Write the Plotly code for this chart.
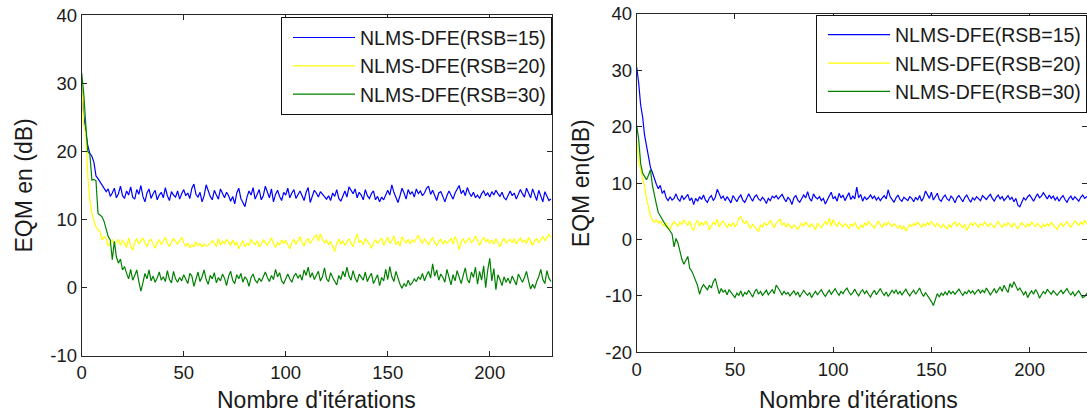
import plotly.graph_objects as go

# ---------------- data ----------------
iterations = list(range(0, 231))

left_rsb15 = [
    29.5, 25.3, 22.8, 20.8, 19.7, 19.3, 18.4, 16.4, 16.0, 15.5, 14.9, 14.6, 14.1, 14.5, 13.4,
    13.9, 14.6, 13.2, 13.8, 14.9, 13.5, 13.1, 14.2, 13.6, 14.8, 13.3, 13.0, 14.4, 13.7, 15.0,
    13.4, 12.6, 13.9, 14.5, 13.1, 13.8, 14.3, 12.9, 13.6, 14.0, 13.2, 14.7, 13.5, 12.8, 14.1,
    13.6, 13.3, 14.2, 13.0, 13.8, 14.4, 13.5, 13.9, 13.1, 14.6, 15.2, 13.7, 13.3, 14.0, 12.6,
    13.5, 15.1, 14.2, 13.4, 12.9, 14.3, 13.6, 13.0, 14.5, 13.8, 13.2, 14.0, 13.5, 12.7, 13.4,
    12.3, 13.9, 14.6, 13.1, 12.5, 11.9, 13.3, 14.2, 13.6, 14.7, 13.0, 13.8, 14.4, 12.9, 13.5,
    14.9, 14.1, 13.2, 14.5, 12.6, 13.7, 14.3, 13.4, 12.8, 14.0, 13.6, 14.6, 13.2, 13.9, 14.4,
    13.1, 13.7, 14.2, 13.5, 12.8, 14.0, 14.7, 12.5, 13.6, 14.3, 13.9, 13.3, 14.1, 13.7, 13.4,
    13.0, 13.5, 12.8, 13.9, 13.4, 14.4, 13.1, 12.7, 13.6, 14.2, 13.3, 14.8, 14.3, 13.8, 14.5,
    13.2, 14.0, 13.6, 12.9, 14.4, 13.5, 13.1, 13.8, 14.2, 12.9, 13.4, 12.6, 13.3, 12.9, 13.7,
    14.3, 13.6, 15.1, 14.0, 13.2, 12.5, 13.5, 14.6, 13.9, 13.0, 14.4, 13.7, 14.1, 13.3, 14.5,
    13.8, 14.2, 13.5, 13.9, 14.6, 14.9, 13.7, 14.3, 13.6, 12.8, 13.9, 14.1, 13.4, 12.6, 13.5,
    14.2, 13.6, 13.0, 13.9, 14.4, 15.0, 13.8, 14.3, 13.5, 14.7, 13.9, 13.4, 14.0, 13.2, 13.6,
    13.1, 13.8, 14.2, 13.5, 13.9, 13.3, 14.1, 13.6, 14.3, 13.8, 13.4, 14.0, 13.2, 12.9, 13.6,
    14.2, 13.5, 13.9, 13.0, 13.6, 14.4, 13.8, 13.3, 14.6, 13.9, 13.2, 14.5, 13.7, 12.8, 14.3,
    13.5, 12.6, 14.1, 13.4, 12.8, 13.0,
]

left_rsb20 = [
    30.0, 24.0, 22.5, 16.3, 12.9, 10.9, 9.8, 8.9, 8.5, 8.2, 7.0, 7.5, 7.2, 6.1, 6.6,
    7.0, 6.3, 6.8, 7.1, 6.2, 6.9, 6.5, 5.9, 7.3, 6.1, 5.5, 6.7, 7.2, 6.4, 6.9,
    7.3, 6.6, 6.0, 6.9, 7.1, 6.4, 5.8, 6.6, 7.0, 6.3, 6.8, 7.4, 6.5, 6.1, 6.7,
    7.2, 6.8, 6.4, 6.9, 7.4, 6.6, 6.1, 6.5, 5.9, 6.3, 6.0, 6.7, 6.2, 6.5, 6.0,
    6.4, 6.1, 6.2, 6.6, 6.9, 6.5, 6.0, 7.2, 6.3, 6.8, 6.4, 7.1, 6.6, 6.2, 7.0,
    6.3, 6.7, 5.7, 6.4, 6.9, 6.0, 6.5, 6.2, 7.1, 6.6, 6.3, 6.9, 6.0, 6.4, 7.0,
    6.6, 6.2, 6.8, 7.3, 6.5, 5.9, 6.7, 6.3, 7.0, 6.5, 6.9, 6.2, 5.7, 6.6, 7.1,
    6.4, 6.8, 7.5, 6.6, 6.1, 6.9, 7.2, 6.5, 7.0, 7.4, 7.8, 6.8, 7.9, 7.1, 6.6,
    7.0, 6.3, 6.8, 6.0, 5.3, 6.5, 7.1, 6.4, 6.9, 6.2, 6.7, 7.2, 6.5, 6.0, 7.0,
    7.9, 6.6, 6.9, 6.3, 7.2, 6.8, 6.4, 5.8, 6.6, 7.0, 6.5, 6.9, 7.3, 6.2, 6.7,
    7.4, 6.5, 6.9, 7.6, 6.3, 6.8, 6.1, 7.5, 6.9, 6.6, 7.1, 6.4, 7.0, 6.7, 7.3,
    7.7, 7.0, 6.5, 7.2, 6.8, 6.3, 6.9, 7.4, 6.6, 6.2, 6.8, 7.1, 6.4, 6.9, 6.5,
    6.8, 7.3, 6.4, 7.5, 6.9, 5.6, 6.7, 7.2, 6.5, 7.0, 7.3, 6.6, 6.9, 7.6, 6.8,
    6.2, 6.9, 7.4, 6.7, 7.1, 6.5, 7.0, 6.4, 7.2, 6.6, 6.0, 6.8, 7.3, 6.5, 6.9,
    7.1, 6.6, 7.2, 6.4, 6.9, 7.3, 6.7, 7.0, 6.5, 7.4, 6.8, 6.2, 6.9, 7.2, 6.6,
    7.0, 7.5, 6.9, 7.3, 7.8, 7.4,
]

left_rsb30 = [
    31.5, 28.5, 24.0, 20.0, 19.6, 15.8, 15.9, 15.7, 10.9, 10.6, 10.4, 9.7, 8.6, 7.5, 7.0,
    4.1, 6.8, 4.5, 3.6, 4.2, 2.6, 3.1, 2.1, 1.3, 2.7, 1.1, 1.8, 2.6, 0.9, -0.5,
    0.7, 2.1, 1.3, 2.6, 1.0, 1.7, 0.8, 1.4, 2.3, 1.1, 1.6, 0.9, 2.5, 1.2, 0.7,
    2.4, 1.3, 0.8, 1.5, 1.0, 1.9, 1.3, 0.6, 2.1, 1.7, 0.2, 1.4, 2.3, 0.9, 1.6,
    2.6, 1.2, 0.5, 1.8, 1.3, 2.2, 0.7, 1.5, 1.0, 2.0, 1.4, 0.3, 1.7, 2.4, 1.1,
    0.6, 1.9, 1.3, 2.1, 0.8, 1.6, 1.2, 0.2, 1.5, 2.0, 1.1, 0.7, 1.4, 0.9, 1.7,
    2.3, 1.5, 0.9, 1.8, 1.2, 2.7, 1.6, 2.2, 1.0, 0.6, 1.4, 2.0, 1.3, 0.8, 1.7,
    2.1, 1.4, 1.9, 1.1, 2.6, 1.8, 3.0, 1.5, 2.2, 1.2, 1.7, 2.4, 1.0, 1.6, 2.9,
    1.3, 0.9, 2.2, 1.5, 1.0, 0.4, 1.8, 1.2, 2.4, 1.6, 3.0, 1.7, 1.1, 2.5, 1.4,
    0.8, 2.0, 1.5, 1.1, 2.3, 0.9, 1.6, 2.1, 0.6, 1.4, 1.9, 0.3, 1.5, 1.0, 2.7,
    1.2, 3.1, 1.6, 0.9, 2.4, 1.3, 0.5, -0.1, 0.6, 0.2, 1.1, 0.4, 0.7, 1.3, 0.9,
    1.6, 1.2, 2.1, 1.0, 1.8, 2.4, 1.4, 3.5, 1.7, 2.6, 1.1, 2.0, 1.5, 0.8, 2.7,
    1.3, 0.4, 1.9, 1.0, 2.5, 1.4, 0.6, 1.8, 2.9, 1.2, 0.7, 2.3, 1.5, 3.0, 0.5,
    2.4, 1.1, 3.2, 0.0, 2.6, 4.3, 1.0, 2.8, -0.3, 1.9, 1.2, 0.3, 1.6, 0.8, 1.4,
    0.6, 1.7, 1.1, 0.4, 2.0, 1.3, 0.8, 1.5, 2.4, 1.0, -0.2, 0.5, -0.1, 0.9, 1.6,
    2.7, 1.2, 0.6, 2.5, 1.4, 0.9,
]

right_rsb15 = [
    30.6, 27.8, 23.9, 21.8, 18.5, 16.6, 14.9, 12.8, 11.9, 10.7, 9.8, 9.0, 9.6, 8.2, 8.7,
    7.4, 6.9, 7.6, 7.0, 7.3, 8.1, 7.2, 6.8, 7.8, 7.1, 7.5, 8.0, 6.9, 7.4, 6.2,
    7.3, 6.8, 7.6, 7.1, 7.9, 7.0, 6.6, 7.4, 7.8, 6.9, 7.5, 8.9, 8.2, 7.3, 7.7,
    6.9, 7.6, 7.1, 6.5, 7.8, 7.2, 6.7, 7.5, 7.9, 7.0, 6.6, 7.3, 8.1, 7.4, 6.8,
    7.6, 7.9, 7.2, 6.9, 7.5, 7.1, 6.4, 7.3, 6.9, 7.7, 7.4, 7.8, 7.2, 7.6, 8.0,
    7.3, 6.7, 7.5, 7.1, 6.2, 7.4, 7.8, 7.0, 6.6, 7.2, 7.9, 7.4, 8.5, 7.3, 6.8,
    8.1, 7.5, 7.2, 7.6, 6.9, 7.3, 6.3, 7.0, 7.7, 8.4, 7.2, 7.6, 6.8, 8.2, 7.4,
    7.9, 6.9, 7.5, 8.3, 7.1, 7.7, 7.2, 9.3, 7.4, 8.0, 6.8, 7.6, 7.1, 7.4, 7.9,
    7.3, 7.7, 7.0, 7.5, 6.9, 7.4, 7.8, 7.2, 8.8, 7.6, 7.0, 6.6, 7.4, 7.9, 7.1,
    6.8, 7.5, 7.2, 6.9, 7.6, 7.3, 6.7, 7.5, 7.0, 7.8, 6.8, 7.4, 8.6, 7.9, 7.3,
    8.4, 7.0, 7.6, 8.2, 7.1, 6.8, 7.5, 7.9, 7.2, 6.9, 7.7, 7.3, 6.5, 7.4, 7.8,
    7.1, 6.7, 7.5, 7.9, 7.2, 6.6, 7.4, 7.0, 7.6, 7.3, 6.9, 7.8, 7.4, 7.1, 7.6,
    8.0, 7.3, 6.8, 7.5, 7.9, 7.2, 7.6, 6.9, 7.4, 7.8, 7.1, 7.5, 6.7, 7.3, 6.1,
    5.8, 6.6, 7.4, 7.0, 7.6, 7.9, 7.2, 6.8, 7.5, 8.1, 7.4, 7.7, 8.3, 7.6, 7.2,
    7.9, 7.3, 7.7, 7.0, 7.5, 6.8, 7.4, 7.8, 7.1, 6.6, 7.3, 7.7, 7.0, 7.6, 7.2,
    6.8, 7.5, 7.9, 7.3, 7.6, 7.4,
]

right_rsb20 = [
    17.5, 13.8, 12.4, 11.0, 9.4, 7.2, 5.6, 4.3, 3.4, 3.1, 3.5, 2.9, 3.3, 2.7, 2.4,
    3.0, 2.2, 1.8, 2.6, 3.2, 2.8, 2.3, 3.1, 2.7, 3.5, 2.9, 2.5, 3.3, 2.1, 1.6,
    2.8, 3.4, 2.4, 3.0, 2.6, 3.2, 2.9, 1.7, 2.5, 3.1, 2.7, 3.6, 2.2, 2.9, 3.3,
    2.6, 2.1, 2.8, 2.4, 3.0, 2.3, 2.7, 3.8, 4.1, 3.2, 2.8, 3.3, 2.5, 2.0, 2.7,
    2.3, 1.9, 1.4, 2.6, 2.2, 3.0, 2.5, 2.8, 3.4, 2.7, 2.1, 2.9, 3.2, 3.6, 2.5,
    3.0, 2.2, 2.8, 2.4, 2.0, 2.6, 2.3, 1.8, 2.5, 2.9, 2.4, 3.1, 2.7, 2.2, 2.8,
    2.4, 1.7, 2.9, 2.5, 2.1, 2.7, 3.2, 2.6, 3.8, 2.4, 3.5, 2.8, 2.3, 3.1, 2.6,
    2.2, 2.8, 2.5, 1.9, 2.7, 2.4, 3.0, 2.3, 1.8, 2.6, 2.1, 2.9, 2.5, 3.2, 2.7,
    2.4, 2.0, 2.8, 3.3, 2.6, 2.2, 2.9, 2.5, 3.1, 2.7, 2.3, 2.8, 2.4, 2.0, 2.6,
    1.8, 2.4, 1.5, 2.1, 2.7, 2.3, 2.9, 2.5, 3.1, 2.7, 2.2, 2.8, 2.4, 3.0, 2.6,
    3.2, 2.8, 2.3, 2.9, 2.5, 2.1, 2.7, 2.3, 1.9, 2.6, 2.2, 2.8, 3.1, 2.4, 2.9,
    2.5, 2.1, 2.7, 1.6, 2.3, 2.9, 2.5, 3.0, 2.6, 2.2, 2.8, 2.4, 3.1, 2.7, 2.3,
    2.9, 2.5, 2.1, 2.7, 3.2, 2.6, 2.2, 2.8, 2.4, 3.0, 2.6, 2.2, 2.9, 2.5, 1.9,
    2.4, 3.0, 2.6, 2.2, 2.8, 2.4, 3.1, 2.7, 2.3, 2.9, 2.5, 2.1, 2.7, 2.3, 2.8,
    2.4, 3.0, 2.6, 2.2, 1.8, 2.5, 2.9, 2.3, 2.7, 3.2, 2.6, 2.2, 2.8, 3.3, 2.9,
    2.5, 3.1, 2.7, 3.4, 2.8, 3.0,
]

right_rsb30 = [
    20.2, 17.8, 13.5, 11.8, 11.2, 10.6, 11.4, 12.4, 9.6, 8.2, 6.3, 4.8, 4.2, 3.5, 2.8,
    2.4, 2.0, 1.4, 1.0, -1.3, 0.2, -0.6, -2.2, -3.5, -4.4, -3.6, -3.0, -5.1, -5.6, -6.4,
    -7.3, -8.2, -9.7, -8.6, -8.0, -8.4, -8.9, -8.1, -8.6, -7.5, -6.9, -8.3, -9.6, -8.7, -9.3,
    -9.0, -9.8, -8.9, -9.4, -10.0, -10.3, -9.5, -9.9, -9.1, -10.1, -9.4, -9.7, -9.0, -9.6, -10.2,
    -9.3, -8.8, -9.7, -9.2, -9.9, -9.5, -9.0, -9.8, -9.4, -8.9, -9.6, -8.1, -8.6, -9.3, -9.8,
    -9.2, -9.7, -9.4, -10.0, -9.5, -9.1, -9.8, -9.3, -10.2, -9.6, -9.0, -9.5, -9.9, -9.4, -10.3,
    -9.7, -9.2, -9.8, -9.4, -8.9, -9.6, -10.1, -9.5, -9.0, -9.7, -9.3, -8.7, -9.4, -9.9, -9.2,
    -9.6, -9.0, -8.6, -9.3, -9.8, -9.4, -8.8, -9.5, -10.0, -9.3, -8.9, -9.6, -9.1, -9.7, -10.2,
    -9.5, -9.0, -9.8, -9.2, -8.7, -9.4, -9.9, -9.3, -10.1, -9.6, -9.0, -9.5, -8.9, -9.7, -9.2,
    -9.8, -9.3, -8.8, -9.5, -10.0, -9.4, -9.0, -9.7, -9.2, -8.6, -9.5, -10.1, -9.4, -9.9, -10.5,
    -11.0, -11.7, -10.4, -9.6, -10.2, -9.5, -9.9, -9.3, -9.8, -9.1, -9.6, -9.2, -9.7, -9.3, -8.8,
    -9.4, -9.9, -9.3, -9.6, -9.0, -9.5, -9.1, -9.7, -9.2, -8.9, -9.5, -9.0, -9.4, -8.6, -9.2,
    -9.8, -9.3, -8.7, -9.5, -9.0, -8.4, -9.2, -8.1, -8.8, -9.4, -7.8, -8.5, -7.5, -8.2, -9.0,
    -8.6, -9.3, -9.8, -9.2, -10.3, -9.6, -9.1, -9.7, -8.9, -9.4, -10.4, -9.8, -9.2, -9.6, -8.8,
    -9.3, -9.7, -9.1, -9.5, -9.9, -9.4, -9.0, -9.6, -9.2, -8.7, -9.4, -9.8, -9.3, -10.0, -9.5,
    -9.1, -9.7, -10.3, -10.1, -9.6, -9.9,
]

series_names = ["NLMS-DFE(RSB=15)", "NLMS-DFE(RSB=20)", "NLMS-DFE(RSB=30)"]
series_colors = ["#0000ff", "#ffff00", "#008000"]
x_ticks = [0, 50, 100, 150, 200]
left_y_ticks = [-10, 0, 10, 20, 30, 40]
right_y_ticks = [-20, -10, 0, 10, 20, 30, 40]
x_title = "Nombre d'itérations"
left_y_title = "EQM en (dB)"
right_y_title = "EQM en(dB)"

# ---------------- figure ----------------
W, H = 1087, 414
FONT = "Liberation Sans, Arial, Helvetica, sans-serif"
TXT = "#1a1a1a"
AX = "#262626"

fig = go.Figure()

for name, col, ys in zip(series_names, series_colors, [left_rsb15, left_rsb20, left_rsb30]):
    fig.add_trace(go.Scatter(x=iterations, y=ys, mode="lines", name=name,
                             line=dict(color=col, width=1.2), xaxis="x", yaxis="y",
                             legend="legend"))
for name, col, ys in zip(series_names, series_colors, [right_rsb15, right_rsb20, right_rsb30]):
    fig.add_trace(go.Scatter(x=iterations, y=ys, mode="lines", name=name,
                             line=dict(color=col, width=1.2), xaxis="x2", yaxis="y2",
                             legend="legend2"))

def px_x(p):
    return p / W

def px_y(p):
    return 1 - p / H

axis_common = dict(showgrid=False, zeroline=False, showline=True, linecolor=AX, linewidth=1,
                   mirror="ticks", ticks="inside", ticklen=5, tickcolor=AX, tickwidth=1,
                   automargin=False,
                   tickfont=dict(family=FONT, size=18.5, color=TXT))

L_left, L_right, L_top, L_bot = 81.7, 552.0, 15.2, 355.8
R_left, R_right, R_top, R_bot = 636.7, 1087.0, 14.0, 352.3

legend_common = dict(xanchor="right", yanchor="top", bgcolor="white", bordercolor="#111111",
                     borderwidth=1, font=dict(family=FONT, size=19.5, color=TXT),
                     itemwidth=62, indentation=6, tracegroupgap=0)

fig.update_layout(
    width=W, height=H,
    margin=dict(l=0, r=0, t=0, b=0, pad=0, autoexpand=False),
    paper_bgcolor="white", plot_bgcolor="white",
    showlegend=True,
    xaxis=dict(domain=[px_x(L_left), px_x(L_right)], range=[0, 230.5], tickvals=x_ticks,
               ticktext=[str(v) for v in x_ticks], anchor="y", **axis_common),
    yaxis=dict(domain=[px_y(L_bot), px_y(L_top)], range=[-10, 40], tickvals=left_y_ticks,
               ticktext=[str(v) for v in left_y_ticks], anchor="x", **axis_common),
    xaxis2=dict(domain=[px_x(R_left), 1.0], range=[0, 229.2], tickvals=x_ticks,
                ticktext=[str(v) for v in x_ticks], anchor="y2", **axis_common),
    yaxis2=dict(domain=[px_y(R_bot), px_y(R_top)], range=[-20, 40], tickvals=right_y_ticks,
                ticktext=[str(v) for v in right_y_ticks], anchor="x2", **axis_common),
    legend=dict(x=px_x(L_right), y=px_y(17.3), **legend_common),
    legend2=dict(x=1.0, y=px_y(R_top + 0.5), **legend_common),
)

title_font = dict(family=FONT, size=23, color=TXT)
annotations = [
    dict(text=x_title, xref="paper", yref="paper", x=px_x((L_left + L_right) / 2), y=px_y(400),
         showarrow=False, font=title_font, xanchor="center", yanchor="middle"),
    dict(text=x_title, xref="paper", yref="paper", x=px_x(858), y=px_y(400),
         showarrow=False, font=title_font, xanchor="center", yanchor="middle"),
    dict(text=left_y_title, xref="paper", yref="paper", x=px_x(23), y=px_y((L_top + L_bot) / 2),
         showarrow=False, font=title_font, textangle=-90, xanchor="center", yanchor="middle"),
    dict(text=right_y_title, xref="paper", yref="paper", x=px_x(581), y=px_y((R_top + R_bot) / 2),
         showarrow=False, font=title_font, textangle=-90, xanchor="center", yanchor="middle"),
]
fig.update_layout(annotations=annotations)

# remove the browser's default 8px page margin so the figure sits at the window origin
fig.write_html("out.html",
               config={"displayModeBar": False},
               post_script="document.body.style.margin='0px';document.body.style.overflow='hidden';")
